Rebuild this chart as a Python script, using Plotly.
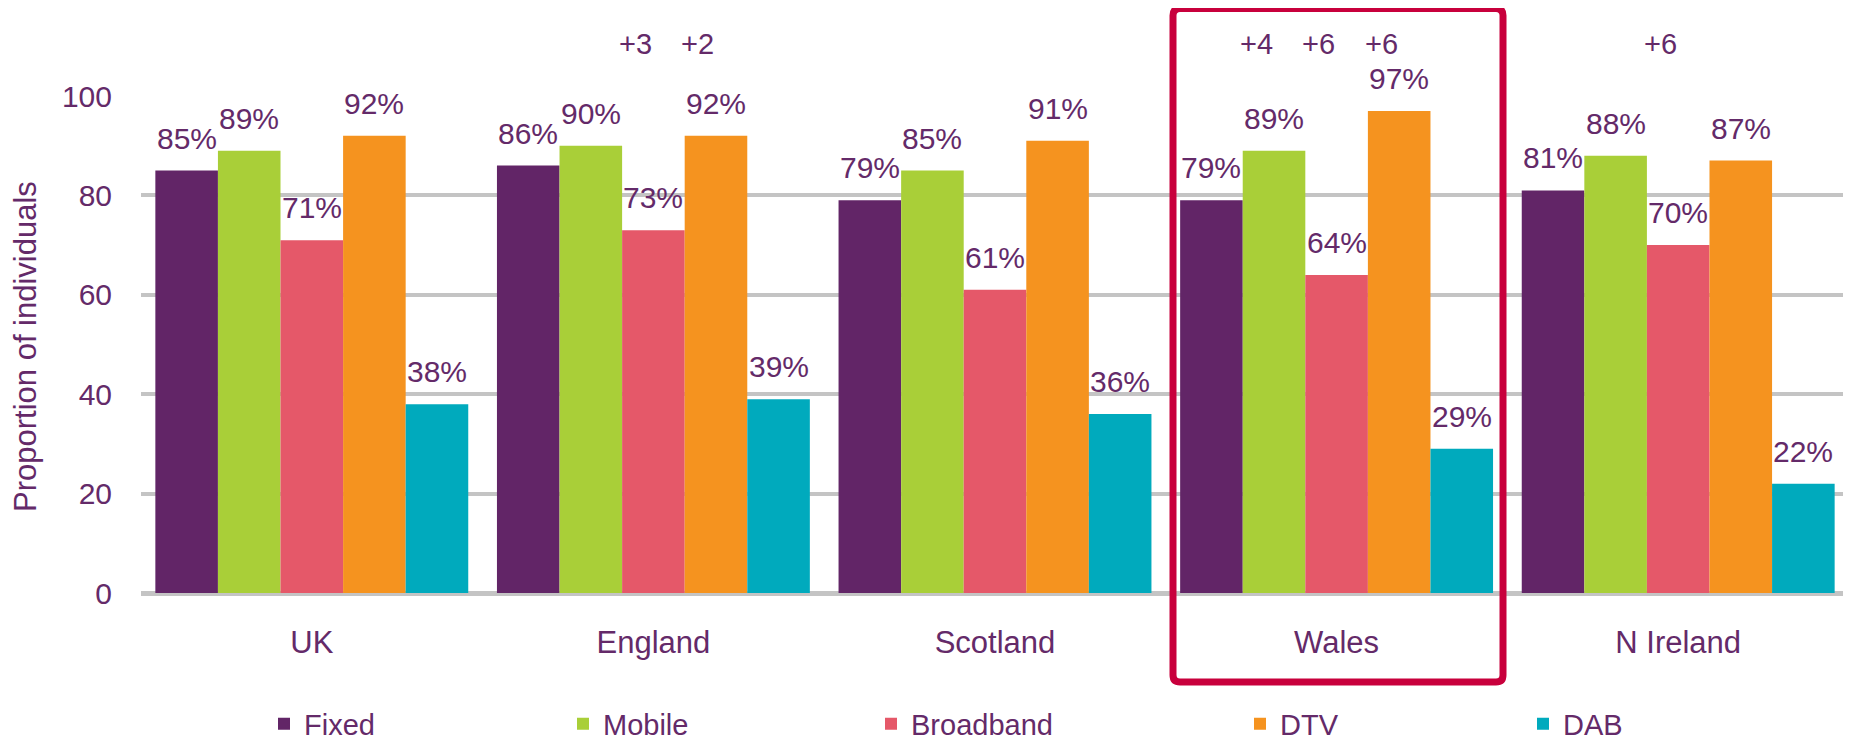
import plotly.graph_objects as go

nations = ["UK", "England", "Scotland", "Wales", "N Ireland"]
services = ["Fixed", "Mobile", "Broadband", "DTV", "DAB"]

fixed = [85, 86, 79, 79, 81]
mobile = [89, 90, 85, 89, 88]
broadband = [71, 73, 61, 64, 70]
dtv = [92, 92, 91, 97, 87]
dab = [38, 39, 36, 29, 22]

# change notes shown above some bars: (nation, service, text)
changes = [
    ("England", "Broadband", "+3"),
    ("England", "DTV", "+2"),
    ("Wales", "Mobile", "+4"),
    ("Wales", "Broadband", "+6"),
    ("Wales", "DTV", "+6"),
    ("N Ireland", "Broadband", "+6"),
]

colors = ["#622567", "#a9cf38", "#e55869", "#f5931f", "#00aabd"]
text_color = "#642a69"
font_family = "Liberation Sans, Arial, sans-serif"

# the page body has an 8px margin, so the figure is drawn 8px in from the corner
OFF = 8
W, H = 1851 - OFF, 743 - OFF
L, R, T, B = 141 - OFF, 2, 96 - OFF, 150
BARGAP = 0.084
plot_w = W - L - R
plot_h = H - T - B
bar_px = plot_w / len(nations) * (1 - BARGAP) / len(services)


def px_x(p):
    # page pixel -> paper x
    return (p - OFF - L) / plot_w


def px_y(p):
    # page pixel -> paper y
    return (H - B - (p - OFF)) / plot_h


series = [fixed, mobile, broadband, dtv, dab]

fig = go.Figure()
for i, (name, vals) in enumerate(zip(services, series)):
    lg = "legend" if i == 0 else f"legend{i + 1}"
    fig.add_trace(go.Bar(
        x=nations, y=vals, name=name,
        marker=dict(color=colors[i], line=dict(width=0)),
        legend=lg,
    ))

annotations = []
for i, vals in enumerate(series):
    for nation, v in zip(nations, vals):
        annotations.append(dict(
            x=nation, y=v, xref="x", yref="y",
            text=f"{v}%", showarrow=False,
            xshift=(i - 2) * bar_px, yshift=14,
            yanchor="bottom", xanchor="center",
            font=dict(size=30, color=text_color, family=font_family),
        ))

for nation, service, txt in changes:
    i = services.index(service)
    annotations.append(dict(
        x=nation, y=px_y(44), xref="x", yref="paper",
        text=txt, showarrow=False,
        xshift=(i - 2) * bar_px - 18, yanchor="middle",
        font=dict(size=29, color=text_color, family=font_family),
    ))

annotations.append(dict(
    x=px_x(25), y=px_y(347), xref="paper", yref="paper",
    text="Proportion of individuals", textangle=-90, showarrow=False,
    xanchor="center", yanchor="middle",
    font=dict(size=31, color=text_color, family=font_family),
))

# legend entries sit at fixed spots along the bottom
legend_icon_px = [276, 575, 883, 1252, 1535]
legends = {}
for i, ix in enumerate(legend_icon_px):
    key = "legend" if i == 0 else f"legend{i + 1}"
    legends[key] = dict(
        xref="container", yref="container",
        x=(ix - 12 - OFF) / W, y=(H - (724 - OFF)) / H,
        xanchor="left", yanchor="middle",
        orientation="h", bgcolor="rgba(0,0,0,0)",
        font=dict(size=29, color=text_color, family=font_family),
    )

# rounded highlight box round Wales
x0, x1 = px_x(1173), px_x(1503)
y0, y1 = px_y(682), px_y(8.5)
rx, ry = 7 / plot_w, 7 / plot_h
box_path = (
    f"M{x0 + rx},{y1} L{x1 - rx},{y1} Q{x1},{y1} {x1},{y1 - ry} "
    f"L{x1},{y0 + ry} Q{x1},{y0} {x1 - rx},{y0} "
    f"L{x0 + rx},{y0} Q{x0},{y0} {x0},{y0 + ry} "
    f"L{x0},{y1 - ry} Q{x0},{y1} {x0 + rx},{y1} Z"
)

fig.update_layout(
    width=W, height=H,
    margin=dict(l=L, r=R, t=T, b=B, autoexpand=False),
    paper_bgcolor="white", plot_bgcolor="white",
    barmode="group", bargap=BARGAP, bargroupgap=0,
    font=dict(family=font_family, color=text_color),
    showlegend=True,
    annotations=annotations,
    shapes=[dict(
        type="path", xref="paper", yref="paper", path=box_path,
        line=dict(color="#c8003c", width=7), layer="above",
    )],
    **legends,
)

fig.update_yaxes(
    range=[0, 100], tickvals=[0, 20, 40, 60, 80, 100],
    showgrid=True, gridcolor="#c4c4c4", gridwidth=4,
    zeroline=True, zerolinecolor="#c4c4c4", zerolinewidth=5,
    showline=False, ticks="", ticklabelstandoff=28, automargin=False,
    tickfont=dict(size=30, color=text_color, family=font_family),
    fixedrange=True,
)
fig.update_xaxes(
    showgrid=False, showline=False, ticks="", ticklabelstandoff=28,
    automargin=False,
    tickfont=dict(size=31, color=text_color, family=font_family),
    fixedrange=True,
)

fig.write_html("out.html")
